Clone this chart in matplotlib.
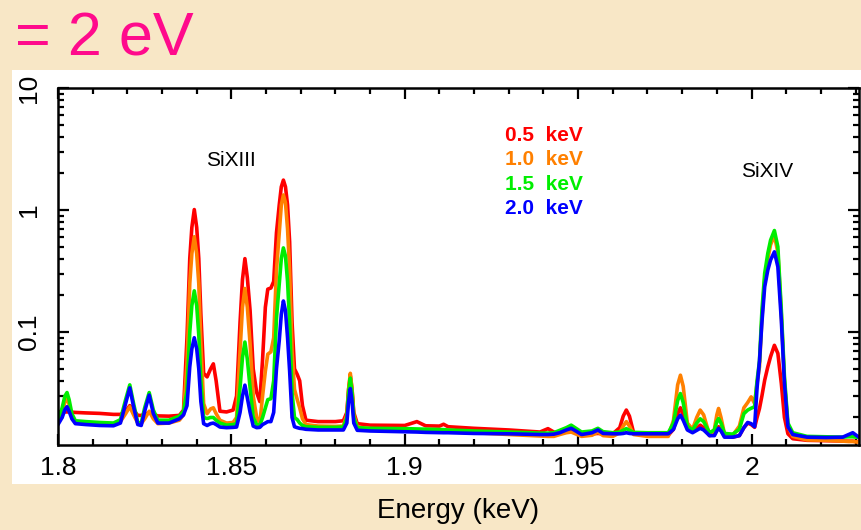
import matplotlib
matplotlib.use("Agg")
import matplotlib.pyplot as plt
from matplotlib.patches import Rectangle
from matplotlib.ticker import LogLocator, MultipleLocator, NullFormatter
import numpy as np

plt.rcParams['font.family'] = ['Liberation Sans', 'DejaVu Sans']

# energy grid (keV) and model spectra for four temperatures
energy = [
    1.8000, 1.8012, 1.8020, 1.8026, 1.8032, 1.8040, 1.8050, 1.8080, 1.8120, 1.8160,
    1.8180, 1.8195, 1.8207, 1.8218, 1.8230, 1.8240, 1.8250, 1.8263, 1.8275, 1.8288,
    1.8320, 1.8350, 1.8362, 1.8372, 1.8380, 1.8386, 1.8393, 1.8400, 1.8406, 1.8412,
    1.8420, 1.8430, 1.8440, 1.8448, 1.8456, 1.8467, 1.8486, 1.8505, 1.8515, 1.8525,
    1.8532, 1.8539, 1.8546, 1.8554, 1.8563, 1.8573, 1.8582, 1.8590, 1.8598, 1.8605,
    1.8614, 1.8622, 1.8630, 1.8638, 1.8644, 1.8650, 1.8656, 1.8662, 1.8668, 1.8675,
    1.8682, 1.8690, 1.8697, 1.8705, 1.8715, 1.8750, 1.8800, 1.8823, 1.8833, 1.8838,
    1.8843, 1.8848, 1.8853, 1.8863, 1.8900, 1.9000, 1.9035, 1.9060, 1.9100, 1.9112,
    1.9125, 1.9200, 1.9300, 1.9390, 1.9413, 1.9430, 1.9447, 1.9466, 1.9480, 1.9495,
    1.9510, 1.9540, 1.9557, 1.9572, 1.9600, 1.9620, 1.9630, 1.9639, 1.9648, 1.9660,
    1.9700, 1.9760, 1.9775, 1.9787, 1.9795, 1.9803, 1.9815, 1.9830, 1.9842, 1.9852,
    1.9862, 1.9879, 1.9893, 1.9900, 1.9905, 1.9912, 1.9922, 1.9946, 1.9965, 1.9978,
    1.9989, 1.9999, 2.0009, 2.0016, 2.0023, 2.0030, 2.0038, 2.0047, 2.0055, 2.0066,
    2.0076, 2.0086, 2.0095, 2.0105, 2.0119, 2.0160, 2.0215, 2.0263, 2.0280, 2.0292,
    2.0302, 2.0311,
]

flux_05 = [
    .0222, .0222, .0222, .0222, .0222, .0221, .0220, .0218, .0216, .0212,
    .0212, .0225, .0250, .0230, .0208, .0208, .0212, .0220, .0212, .0206,
    .0205, .0208, .0230, .090, .40, .72, 1.01, .72, .40, .14,
    .046, .043, .050, .055, .040, .0225, .0222, .0230, .030, .12,
    .27, .40, .28, .15, .050, .032, .027, .060, .16, .225,
    .23, .26, .65, 1.10, 1.55, 1.76, 1.55, 1.10, .55, .12,
    .050, .045, .040, .025, .0190, .0185, .0185, .0188, .022, .034,
    .044, .034, .022, .0178, .0173, .0172, .0185, .0171, .0170, .0176,
    .0168, .0163, .0158, .0152, .0162, .0152, .0150, .0155, .0158, .0153,
    .0147, .0147, .0148, .0147, .0147, .0165, .0205, .0230, .0205, .0150,
    .0143, .0143, .0160, .0215, .0240, .0210, .0162, .0155, .0163, .0173,
    .0165, .0142, .0145, .0160, .0168, .0158, .0140, .0138, .0142, .0165,
    .0180, .0175, .0166, .0200, .0237, .030, .0404, .052, .063, .078,
    .067, .038, .020, .0147, .0134, .0130, .0129, .0128, .0128, .0128,
    .0127, .0127,
]

flux_10 = [
    .0180, .0215, .0270, .0290, .0255, .0205, .0182, .0180, .0178, .0178,
    .0185, .0215, .0245, .0210, .0180, .0178, .0195, .0225, .0195, .0178,
    .0180, .0190, .0210, .055, .25, .44, .605, .44, .25, .080,
    .026, .0215, .0235, .0240, .0215, .0190, .0180, .0182, .0200, .070,
    .16, .228, .16, .080, .030, .0200, .0180, .030, .048, .066,
    .069, .090, .32, .65, 1.10, 1.33, 1.15, .70, .32, .070,
    .034, .028, .024, .0195, .0175, .0170, .0169, .0170, .021, .034,
    .046, .034, .021, .0167, .0162, .0158, .0157, .0156, .0155, .0155,
    .0154, .0150, .0145, .0141, .0140, .0140, .0145, .0150, .0152, .0146,
    .0140, .0143, .0152, .0142, .0140, .0150, .0170, .0185, .0170, .0145,
    .0140, .0140, .0190, .0370, .0444, .0360, .0180, .0160, .0200, .0230,
    .0210, .0143, .0160, .0210, .0237, .0200, .0147, .0143, .0170, .0240,
    .0265, .0295, .0260, .038, .052, .13, .27, .40, .52, .62,
    .45, .14, .040, .0170, .0140, .0131, .0130, .0128, .0127, .0127,
    .0126, .0126,
]

flux_15 = [
    .0190, .0240, .0300, .0320, .0280, .0215, .0188, .0185, .0182, .0180,
    .0192, .0280, .0370, .0260, .0182, .0180, .0240, .0320, .0230, .0190,
    .0190, .0205, .0225, .033, .100, .165, .218, .165, .095, .040,
    .020, .0196, .0200, .0200, .0190, .0180, .0173, .0175, .0178, .035,
    .062, .083, .060, .035, .0200, .0175, .0173, .0200, .0240, .0280,
    .0285, .040, .13, .25, .40, .49, .42, .26, .12, .032,
    .020, .0192, .0180, .0172, .0168, .0166, .0166, .0167, .020, .032,
    .042, .032, .020, .0165, .0163, .0162, .0161, .0160, .0159, .0159,
    .0158, .0155, .0152, .0149, .0149, .0150, .0157, .0165, .0173, .0162,
    .0152, .0155, .0163, .0153, .0150, .0152, .0157, .0162, .0157, .0151,
    .0150, .0150, .0180, .0275, .0314, .0265, .0170, .0157, .0180, .0195,
    .0185, .0150, .0158, .0185, .0196, .0180, .0148, .0146, .0160, .0215,
    .0230, .0238, .0245, .040, .058, .15, .303, .442, .567, .68,
    .50, .151, .043, .0180, .0150, .0140, .0139, .0138, .0139, .0139,
    .0138, .0137,
]

flux_20 = [
    .0175, .0200, .0232, .0245, .0225, .0195, .0178, .0175, .0172, .0171,
    .0180, .0260, .0350, .0245, .0175, .0172, .0225, .0305, .0215, .0180,
    .0180, .0195, .0210, .025, .052, .073, .090, .073, .050, .027,
    .0178, .0172, .0178, .0180, .0175, .0167, .0165, .0166, .0167, .022,
    .030, .0368, .029, .022, .0170, .0165, .0166, .0175, .0180, .0185,
    .0185, .0220, .050, .085, .140, .180, .150, .090, .048, .020,
    .0168, .0165, .0163, .0162, .0160, .0158, .0158, .0158, .018, .027,
    .0345, .027, .018, .0157, .0155, .0153, .0152, .0151, .0150, .0150,
    .0150, .0148, .0147, .0145, .0145, .0146, .0150, .0158, .0163, .0154,
    .0145, .0150, .0158, .0148, .0147, .0147, .0148, .0150, .0148, .0147,
    .0147, .0147, .0160, .0195, .0209, .0190, .0158, .0150, .0157, .0163,
    .0158, .0142, .0142, .0155, .0163, .0155, .0138, .0138, .0142, .0165,
    .0182, .0178, .0168, .035, .058, .12, .235, .322, .39, .455,
    .343, .125, .038, .0168, .0145, .0138, .0137, .0138, .0145, .0150,
    .0143, .0137,
]

series = [
    ("0.5  keV", flux_05, "#ff0000"),
    ("1.0  keV", flux_10, "#ff8000"),
    ("1.5  keV", flux_15, "#00ee00"),
    ("2.0  keV", flux_20, "#0000ff"),
]

xticks = [1.8, 1.85, 1.9, 1.95, 2.0]
xticklabels = ["1.8", "1.85", "1.9", "1.95", "2"]
yticks = [0.1, 1, 10]
yticklabels = ["0.1", "1", "10"]

fig = plt.figure(figsize=(8.61, 5.30), dpi=100)
fig.patch.set_facecolor("#f8e7c6")
fig.patches.append(Rectangle((12 / 861, 46 / 530), 849 / 861, 414 / 530,
                             transform=fig.transFigure, facecolor="white",
                             edgecolor="none", zorder=-5))

ax = fig.add_axes([58 / 861, 85 / 530, 801 / 861, 357 / 530])
ax.set_facecolor("white")

for label, flux, color in series:
    assert len(flux) == len(energy)
    ax.plot(energy, flux, color=color, lw=2.6, solid_joinstyle="round")

ax.set_yscale("log")
ax.set_xlim(1.8, 2.031)
ax.set_ylim(0.0119, 10)

ax.set_xticks(xticks, labels=xticklabels)
ax.xaxis.set_minor_locator(MultipleLocator(0.01))
ax.set_yticks(yticks, labels=yticklabels)
ax.yaxis.set_minor_locator(LogLocator(base=10, subs=np.arange(2, 10)))
ax.yaxis.set_minor_formatter(NullFormatter())

ax.tick_params(which="both", direction="in", top=True, right=True, width=1.6,
               labelsize=19)
ax.tick_params(which="major", length=8)
ax.tick_params(which="minor", length=4.5)
ax.tick_params(axis="x", pad=8)
ax.tick_params(axis="y", pad=12, labelrotation=90)
for t in ax.get_yticklabels():
    t.set_va("center")
for s in ax.spines.values():
    s.set_linewidth(1.8)

ax.set_xlabel("Energy (keV)", fontsize=20, labelpad=13)

ax.text(1.8499, 2.57, "SiXIII", fontsize=15, ha="center", va="center")
ax.text(2.0045, 2.07, "SiXIV", fontsize=15, ha="center", va="center")

for i, (label, flux, color) in enumerate(series):
    ax.text(0.558, 0.867 - i * 0.0683, label, transform=ax.transAxes,
            color=color, fontsize=15, fontweight="bold", ha="left", va="center")

fig.text(15 / 861, 0.896, "= 2 eV", color="#ff0a8c", fontsize=44,
         ha="left", va="baseline")

fig.savefig("out.png", dpi=100, facecolor=fig.get_facecolor())
